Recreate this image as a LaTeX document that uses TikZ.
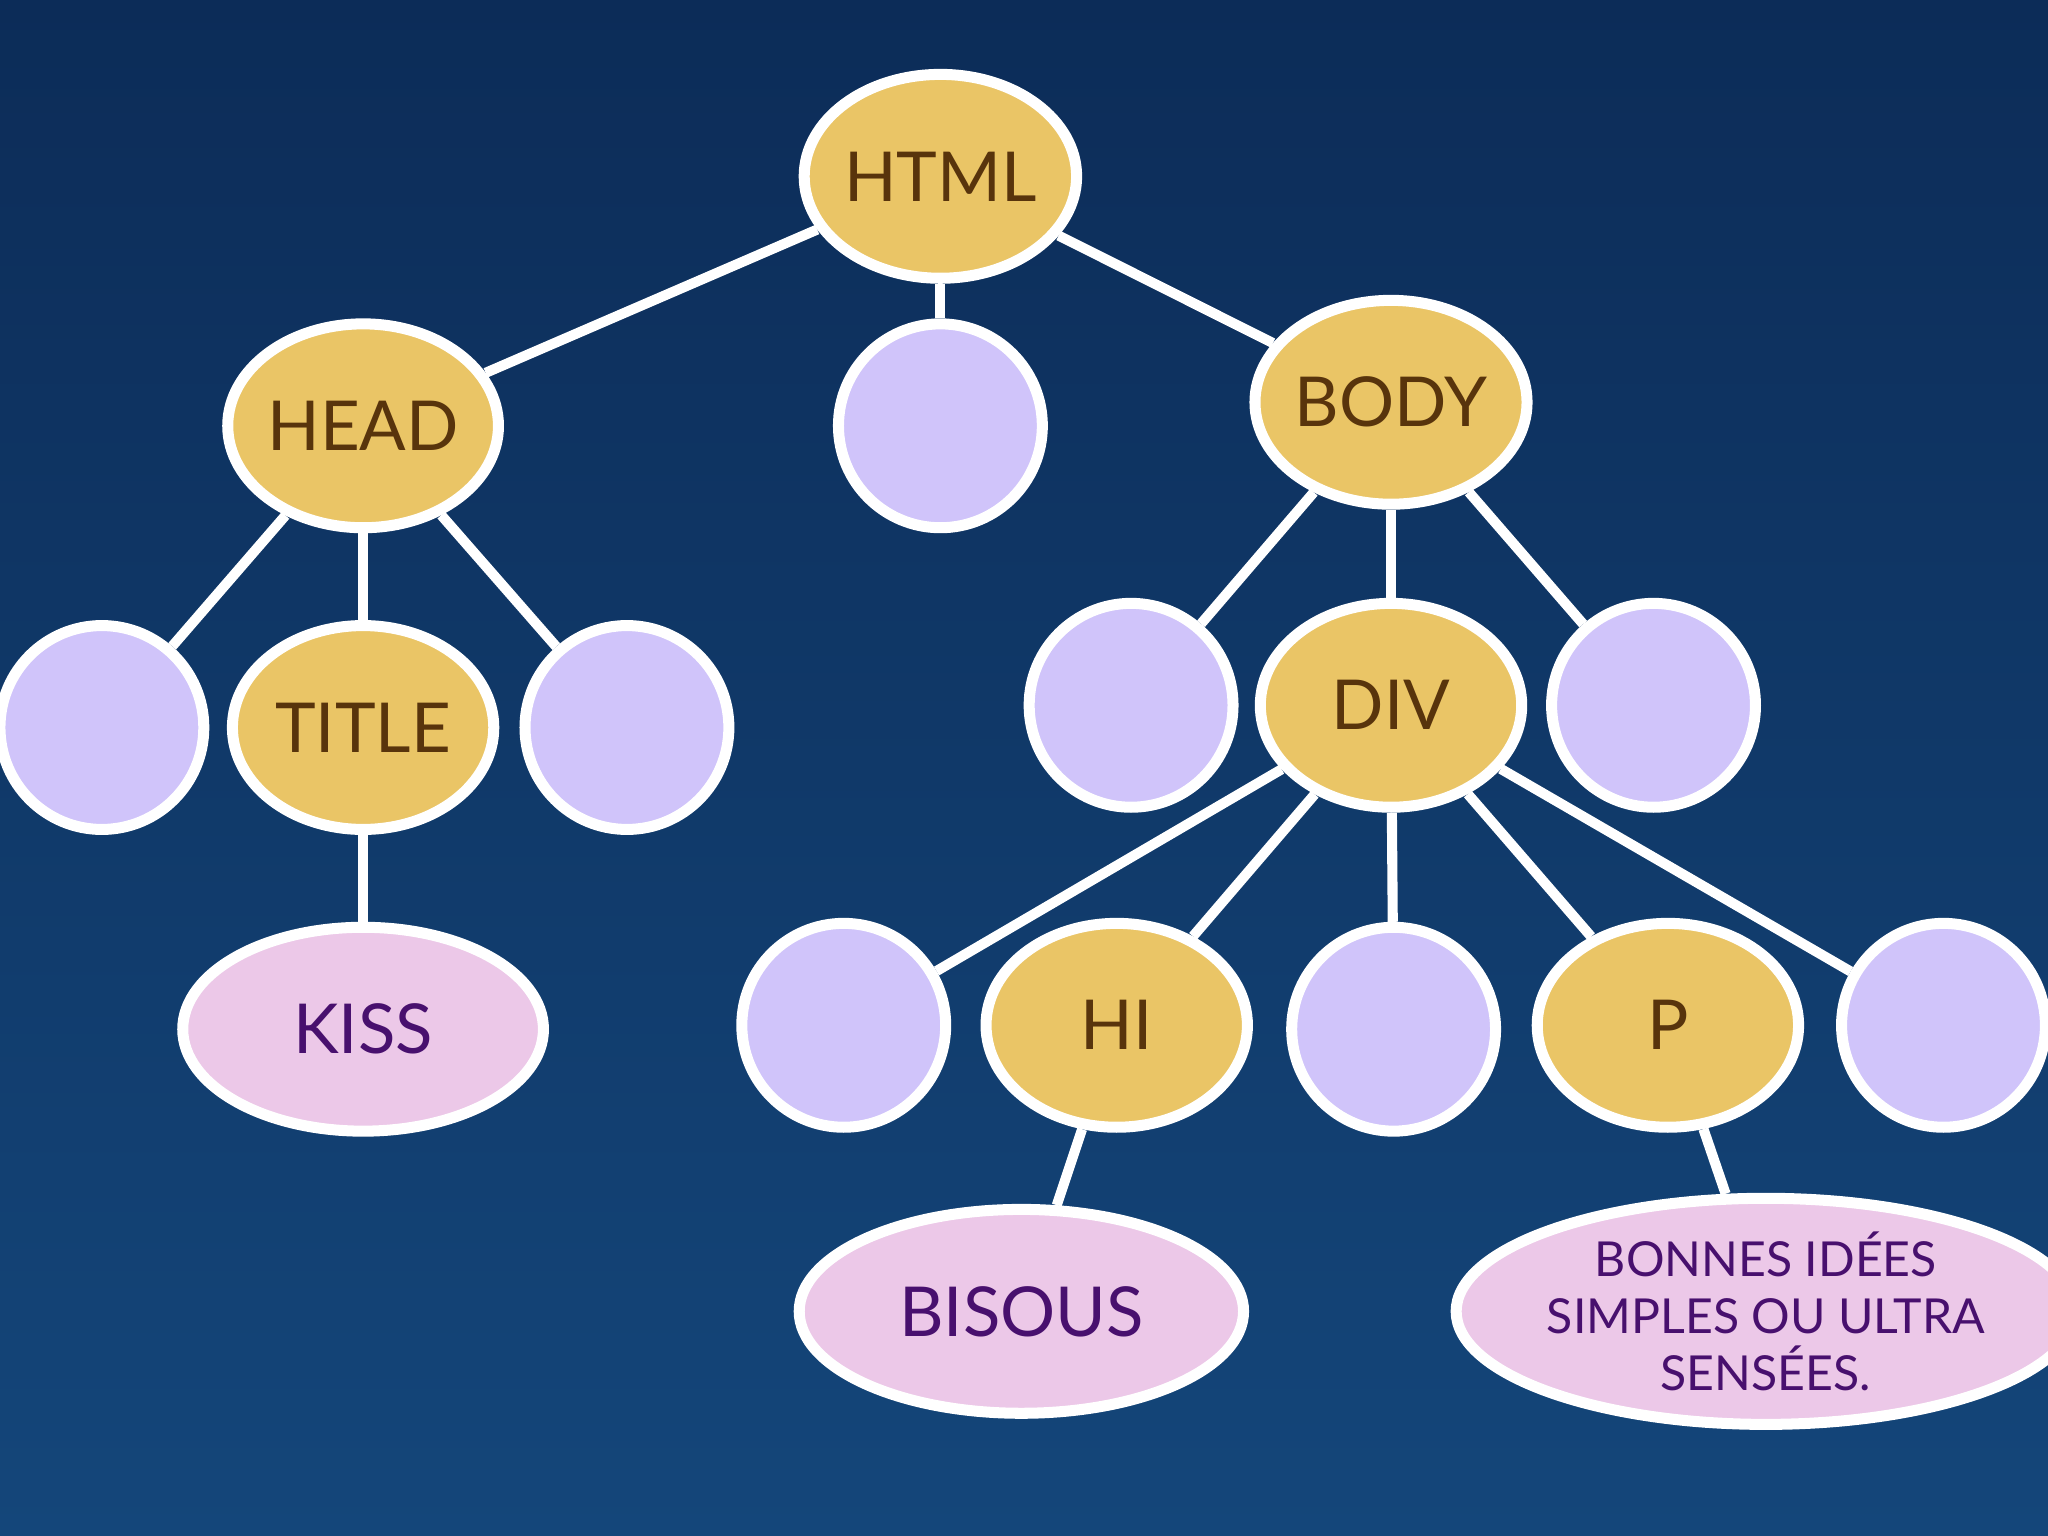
\documentclass[tikz,border=0pt]{standalone}
\usepackage{fontspec}
\setmainfont{Lato}
\usetikzlibrary{shapes.geometric}
\definecolor{gold}{RGB}{234,197,102}
\definecolor{brn}{RGB}{88,52,12}
\definecolor{lav}{RGB}{208,196,250}
\definecolor{pnk}{RGB}{236,200,232}
\definecolor{pur}{RGB}{72,16,110}
\definecolor{bgA}{RGB}{12,44,88}
\definecolor{bgB}{RGB}{20,70,122}
\tikzset{
 base/.style={ellipse,draw=white,line width=2.4pt,inner sep=0pt},
 tag/.style={base,fill=gold,text=brn,minimum width=2cm,minimum height=1.56cm,font=\fontsize{15}{18}\selectfont},
 leaf/.style={base,fill=lav,minimum width=1.56cm,minimum height=1.56cm},
 txt/.style={base,fill=pnk,text=pur,minimum height=1.56cm,font=\fontsize{15}{18}\selectfont},
 edge/.style={draw=white,line width=2.2pt}
}
\begin{document}
\begin{tikzpicture}[x=0.01cm,y=-0.01cm]
\shade[top color=bgA,bottom color=bgB] (0,0) rectangle (1568,1176);
\useasboundingbox (0,0) rectangle (1568,1176);
\node[tag] (html) at (720,135) {HTML};
\node[tag] (head) at (278,326) {HEAD};
\node[leaf] (c1) at (720,326) {};
\node[tag] (body) at (1065,308) {BODY};
\node[leaf] (c2) at (78,557) {};
\node[tag] (title) at (278,557) {TITLE};
\node[leaf] (c3) at (480,557) {};
\node[leaf] (c4) at (866,540) {};
\node[tag] (div) at (1065,540) {DIV};
\node[leaf] (c5) at (1266,540) {};
\node[txt,minimum width=2.76cm] (kiss) at (278,788) {KISS};
\node[leaf] (c6) at (646,785) {};
\node[tag] (h1) at (855,785) {HI};
\node[leaf] (c7) at (1067,788) {};
\node[tag] (p) at (1277,785) {P};
\node[leaf] (c8) at (1488,785) {};
\node[txt,minimum width=3.4cm] (bis) at (782,1004) {BISOUS};
\node[txt,minimum width=4.04cm,align=center,font=\fontsize{10.5}{12.5}\selectfont] (bon) at (1352,1004) {BONNES IDÉES\\SIMPLES OU ULTRA\\SENSÉES.};
\foreach \a/\b in {html/head,html/c1,html/body,head/c2,head/title,head/c3,title/kiss,body/c4,body/div,body/c5,div/c6,div/h1,div/c7,div/p,div/c8,h1/bis,p/bon}
  \draw[edge] (\a) -- (\b);
\end{tikzpicture}
\end{document}
